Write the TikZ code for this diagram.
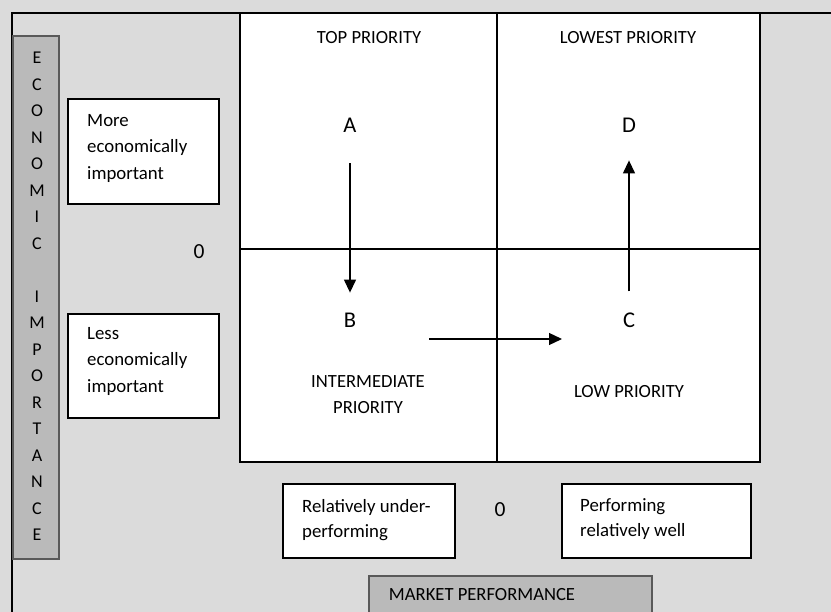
\documentclass[tikz,border=0pt]{standalone}
\usepackage{fontspec}
\setmainfont{Carlito}
\usetikzlibrary{arrows.meta}
\begin{document}
\begin{tikzpicture}[x=1pt,y=-1pt,
  lbl/.style={font=\fontsize{18.6}{26}\selectfont, inner sep=0pt, align=center},
  big/.style={font=\fontsize{22.5}{24}\selectfont, inner sep=0pt},
  wbox/.style={draw=black, line width=1.8pt, fill=white, inner sep=0pt, anchor=north west},
  boxtext/.style={font=\fontsize{18.8}{26.5}\selectfont, align=left, anchor=north west, inner sep=0pt},
  graybox/.style={draw=black!65, line width=1.6pt, fill=black!27, inner sep=0pt, anchor=north west},
  arr/.style={line width=1.3pt, -{Triangle[length=13pt,width=12pt]}},
  gridline/.style={line width=1.5pt}]
\useasboundingbox (0,0) rectangle (831,612);
\fill[black!14] (0,0) rectangle (831,612);
% outer frame (only left and top edges visible)
\draw[line width=1.6pt] (12,612) -- (12,13) -- (831,13);
% vertical axis strip
\node[graybox, minimum width=46pt, minimum height=523pt] (econ) at (12,35) {};
\node[font=\fontsize{18}{26.5}\selectfont, inner sep=0pt, align=center] (econtxt) at (37,296.5)
  {E\\C\\O\\N\\O\\M\\I\\C\\\mbox{}\\I\\M\\P\\O\\R\\T\\A\\N\\C\\E};
% quadrant grid
\draw[gridline, fill=white] (240,13) rectangle (760,462);
\draw[gridline] (497,13) -- (497,462);
\draw[gridline] (240,249) -- (760,249);
% quadrant labels
\node[lbl] (top) at (369,38) {TOP PRIORITY};
\node[lbl] (lowest) at (628,38) {LOWEST PRIORITY};
\node[lbl] (inter) at (368,395) {INTERMEDIATE\\PRIORITY};
\node[lbl] (low) at (629,392) {LOW PRIORITY};
% letters
\node[big] (A) at (350,125) {A};
\node[big] (B) at (350,320) {B};
\node[big] (C) at (629,320) {C};
\node[big] (D) at (629,125) {D};
% arrows
\draw[arr, shorten <=31pt, shorten >=20pt] (A) -- (B);
\draw[arr, shorten <=21pt, shorten >=28pt] (C) -- (D);
\coordinate (bcs) at (429,339);
\coordinate (bce) at (562,339);
\draw[arr] (bcs) -- (bce);
% left boxes
\node[wbox, minimum width=151pt, minimum height=105pt] (more) at (67,98) {};
\node[boxtext] (moretxt) at (87,114) {More\\economically\\important};
\node[wbox, minimum width=151pt, minimum height=104pt] (less) at (67,313) {};
\node[boxtext] (lesstxt) at (87,327) {Less\\economically\\important};
\node[big, font=\fontsize{21.5}{24}\selectfont] (zeroy) at (199,252) {0};
% bottom boxes
\node[wbox, minimum width=172pt, minimum height=74pt] (under) at (282,483) {};
\node[boxtext, font=\fontsize{18.8}{25}\selectfont] (undertxt) at (302,499.5) {Relatively under-\\performing};
\node[wbox, minimum width=189pt, minimum height=74pt] (well) at (561,483) {};
\node[boxtext, font=\fontsize{18.8}{25}\selectfont] (welltxt) at (580,498.5) {Performing\\relatively well};
\node[big, font=\fontsize{21.5}{24}\selectfont] (zerox) at (500,510) {0};
% market performance
\node[graybox, minimum width=283pt, minimum height=50pt] (market) at (368,575) {};
\node[lbl, font=\fontsize{18.6}{22}\selectfont] (markettxt) at (482,595) {MARKET PERFORMANCE};
\end{tikzpicture}
\end{document}
